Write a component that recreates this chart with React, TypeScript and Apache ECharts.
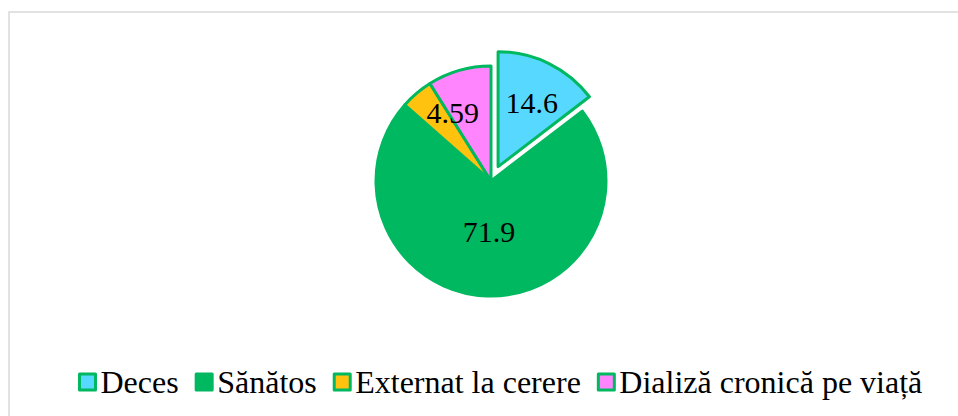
import React, { useEffect, useRef } from "react";
import * as echarts from "echarts";

const categories = ["Deces", "Sănătos", "Externat la cerere", "Dializă cronică pe viață"];
const values = [14.6, 71.9, 4.59, 8.91];
const colors = ["#57D9FF", "#00B860", "#FFC20E", "#FF85FF"];
const showLabel = [true, true, true, false];
const labelShift = [
  { dx: 7, dy: -10 },
  { dx: 0, dy: -10 },
  { dx: 1, dy: -22 },
  { dx: 0, dy: 0 },
];

export default function App() {
  const ref = useRef<HTMLDivElement>(null);
  useEffect(() => {
    if (!ref.current) return;
    const chart = echarts.init(ref.current, undefined, { renderer: "svg" });
    const font = "Liberation Serif";
    chart.setOption({
      animation: false,
      backgroundColor: "#ffffff",
      textStyle: { fontFamily: font },
      graphic: [
        {
          type: "rect",
          shape: { x: 9, y: 12, width: 960, height: 420 },
          style: { fill: "none", stroke: "#d9d9d9", lineWidth: 1.5 },
          silent: true,
        },
      ],
      legend: {
        top: 361,
        left: 73,
        icon: "rect",
        itemWidth: 16,
        itemHeight: 16,
        itemGap: 16,
        selectedMode: false,
        itemStyle: { borderColor: "#00B860", borderWidth: 3 },
        textStyle: { fontFamily: font, fontSize: 32, color: "#000", lineHeight: 32 },
        data: categories,
      },
      series: [
        {
          type: "pie",
          center: [491, 181],
          radius: [0, 115],
          startAngle: 90,
          clockwise: true,
          selectedMode: "single",
          selectedOffset: 16,
          avoidLabelOverlap: false,
          emphasis: { disabled: true },
          itemStyle: { borderColor: "#00B860", borderWidth: 3 },
          label: {
            show: true,
            position: "inside",
            fontFamily: font,
            fontSize: 30,
            color: "#000",
            formatter: (p: any) => String(p.value),
          },
          labelLine: { show: false },
          labelLayout: (p: any) => labelShift[p.dataIndex],
          data: categories.map((name, i) => ({
            name,
            value: values[i],
            selected: i === 0,
            itemStyle: { color: colors[i] },
            label: { show: showLabel[i] },
          })),
        },
      ],
    });
    return () => chart.dispose();
  }, []);
  return (
    <div
      ref={ref}
      style={{ position: "fixed", left: 0, top: 0, width: 958, height: 416 }}
    />
  );
}
